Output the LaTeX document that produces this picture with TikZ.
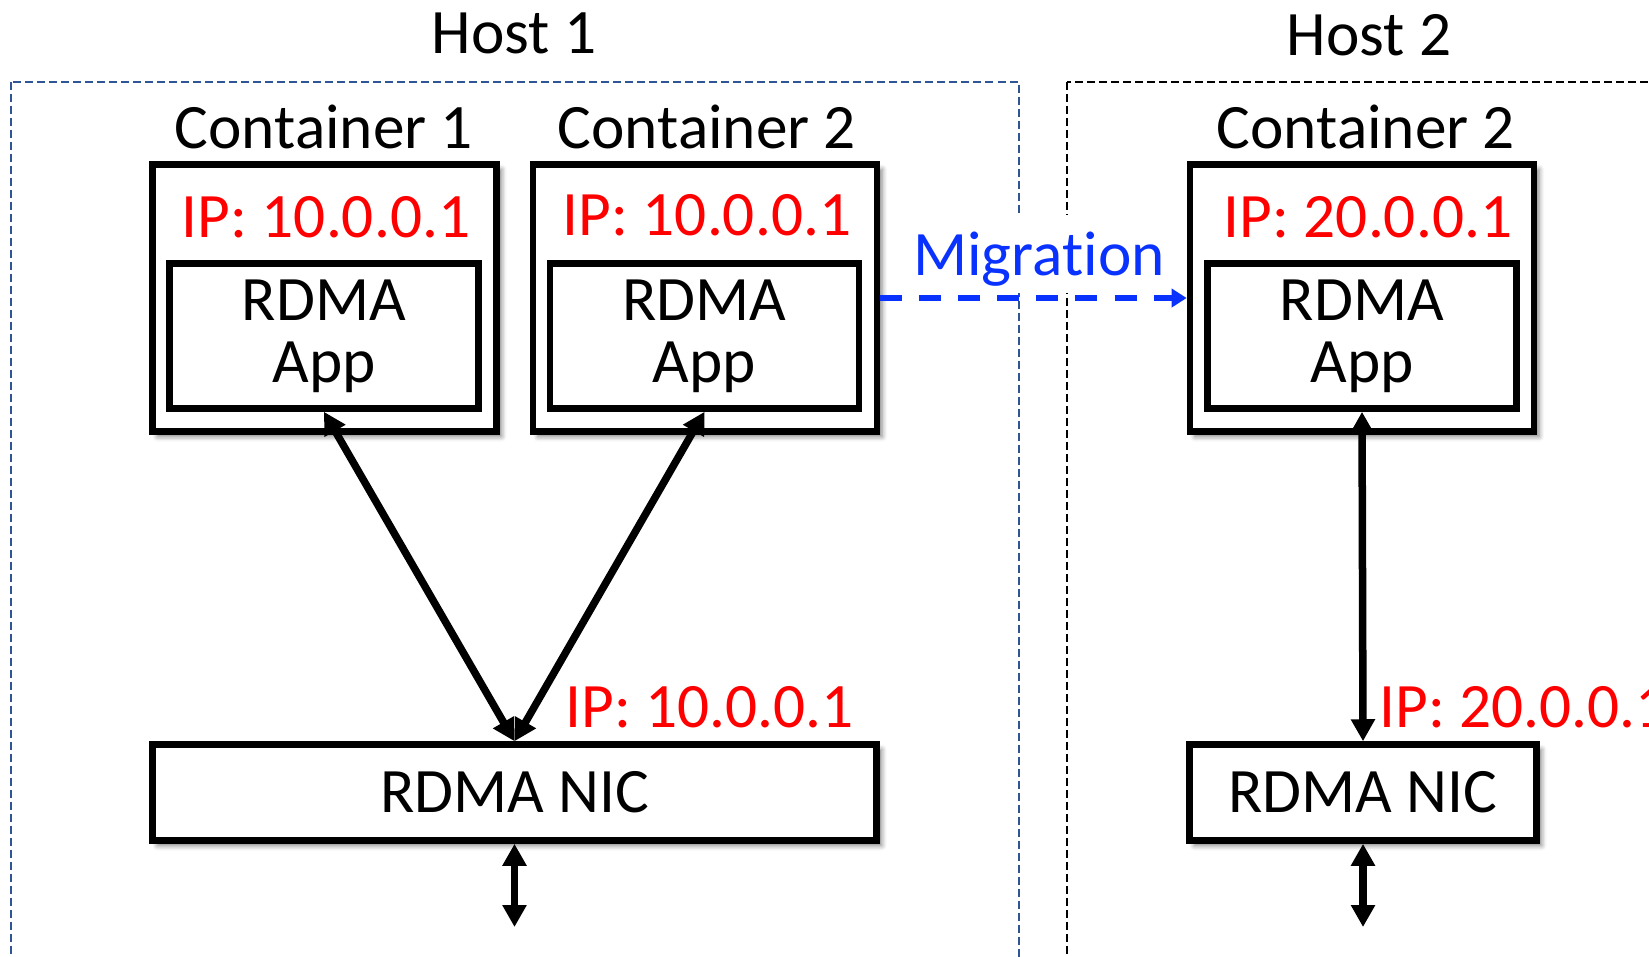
\documentclass[tikz,border=0pt]{standalone}
\usepackage{fontspec}
\setmainfont{Carlito}[Ligatures=NoCommon]
\usetikzlibrary{arrows.meta,shadows.blur}
\definecolor{hostazul}{RGB}{47,85,151}
\definecolor{migazul}{RGB}{10,50,255}

\begin{document}
\begin{tikzpicture}[x=0.01cm, y=-0.01cm,
    font=\fontsize{18pt}{17.6pt}\selectfont,
    caixa/.style={draw, line width=0.065cm, fill=white, inner sep=0pt},
    sombra/.style={blur shadow={shadow xshift=0.05cm, shadow yshift=-0.05cm, shadow blur radius=0.05cm, shadow opacity=50}},
    conteiner/.style={caixa, sombra, minimum width=3.44cm, minimum height=2.67cm},
    app/.style={caixa, align=center, minimum width=3.09cm, minimum height=1.45cm},
    nic/.style={caixa, sombra, minimum height=0.96cm},
    ip/.style={text=red, inner sep=0pt},
    seta/.style={{Triangle[length=0.22cm,width=0.23cm]}-{Triangle[length=0.22cm,width=0.23cm]}, line width=0.075cm},
    host/.style={line width=0.022cm, dash pattern=on 0.08cm off 0.04cm}]
    % Área visível
    \clip (0,0) rectangle (1649,956);

    % Hosts (caixas tracejadas)
    \draw[host, hostazul] (11,82) rectangle (1019,1000);
    \draw[host, black] (1067,82) rectangle (1700,1000);
    \node[anchor=base] (h1) at (514,53) {Host 1};
    \node[anchor=base] (h2) at (1369,55) {Host 2};

    % Containers
    \node[conteiner] (c1) at (324.5,298) {};
    \node[conteiner] (c2) at (705,298) {};
    \node[conteiner] (c3) at (1362,298) {};
    \node[anchor=base] (t1) at (324,148) {Container 1};
    \node[anchor=base] (t2) at (707,148) {Container 2};
    \node[anchor=base] (t3) at (1366,148) {Container 2};
    \node[ip, anchor=base] (c1ip) at (326,237) {IP: 10.0.0.1};
    \node[ip, anchor=base] (c2ip) at (707,235) {IP: 10.0.0.1};
    \node[ip, anchor=base] (c3ip) at (1368,237) {IP: 20.0.0.1};

    % Aplicações RDMA
    \node[app] (a1) at (324,336) {RDMA\\App};
    \node[app] (a2) at (704.5,336) {RDMA\\App};
    \node[app] (a3) at (1362,336) {RDMA\\App};

    % Placas RDMA
    \node[nic, minimum width=7.24cm] (n1) at (514.5,792.5) {RDMA NIC};
    \node[nic, minimum width=3.47cm] (n2) at (1363,792.5) {RDMA NIC};
    \node[ip, anchor=base west] (n1ip) at (565,727) {IP: 10.0.0.1};
    \node[ip, anchor=base west] (n2ip) at (1379,727) {IP: 20.0.0.1};

    % Migração
    \node[text=migazul, fill=white, inner sep=0pt, text height=0.6cm, text depth=0.18cm, anchor=base] (mig) at (1039,275) {Migration};
    \draw[migazul, line width=0.055cm, dash pattern=on 0.22cm off 0.17cm, -{Triangle[length=0.15cm,width=0.18cm]}] (c2.east) -- (c3.west);

    % Ligações
    \draw[seta] (a1.south) -- (n1.north);
    \draw[seta] (a2.south) -- (n1.north);
    \draw[seta] (a3.south) -- (n2.north);
    \coordinate (n1fora) at (514.5,927);
    \coordinate (n2fora) at (1363,927);
    \draw[seta] (n1.south) -- (n1fora);
    \draw[seta] (n2.south) -- (n2fora);
\end{tikzpicture}
\end{document}
